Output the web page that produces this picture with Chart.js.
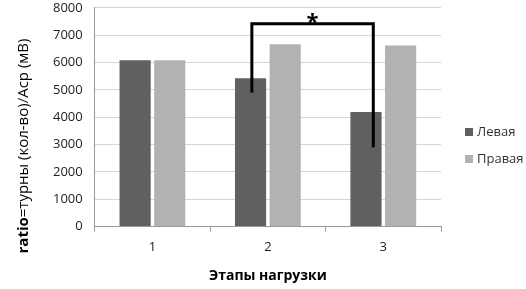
<!DOCTYPE html>
<html>
<head>
<meta charset="utf-8">
<script src="https://cdn.jsdelivr.net/npm/chart.js@4"></script>
<style>
  html, body { margin: 0; padding: 0; background: #fff; overflow: hidden; }
  #wrap { width: 526px; height: 289px; }
</style>
</head>
<body>
<div id="wrap"><canvas id="barchart"></canvas></div>
<script>
const stages = ['1', '2', '3'];
const leftValues = [6080, 5420, 4190];
const rightValues = [6080, 6670, 6620];
const yTicks = [0, 1000, 2000, 3000, 4000, 5000, 6000, 7000, 8000];
// significance bracket between stage 2 and stage 3 (left side)
const bracketTop = 7420;
const bracketEnds = [4900, 2900];

const FONT = '"Open Sans", sans-serif';

const yTitle = {
    id: 'yTitle',
    afterDraw(chart) {
        const c = chart.ctx;
        c.save();
        c.translate(24, 146);
        c.rotate(-Math.PI / 2);
        c.textBaseline = 'middle';
        const bold = 'bold 15px ' + FONT;
        const norm = '15px ' + FONT;
        c.font = bold;
        const w1 = c.measureText('ratio').width;
        c.font = norm;
        const rest = '=турны (кол-во)/Аср (мВ)';
        const w2 = c.measureText(rest).width;
        let x = -(w1 + w2) / 2;
        c.fillStyle = '#000';
        c.font = bold;
        c.fillText('ratio', x, 0);
        c.font = norm;
        c.fillText(rest, x + w1, 0);
        c.restore();
    }
};

const sideLegend = {
    id: 'sideLegend',
    afterDraw(chart) {
        const c = chart.ctx;
        const x = chart.chartArea.right + 24;
        c.save();
        c.font = '13px ' + FONT;
        c.textBaseline = 'middle';
        chart.data.datasets.forEach((ds, i) => {
            const y = 132 + i * 27;
            c.fillStyle = ds.backgroundColor;
            c.fillRect(x, y - 4, 8, 8);
            c.fillStyle = '#333';
            c.fillText(ds.label, x + 12, y);
        });
        c.restore();
    }
};

const bracket = {
    id: 'bracket',
    afterDatasetsDraw(chart) {
        const c = chart.ctx;
        const xs = chart.scales.x, ys = chart.scales.y;
        const x1 = xs.getPixelForValue(1) - 16;
        const x2 = xs.getPixelForValue(2) - 10;
        const yt = ys.getPixelForValue(bracketTop);
        c.save();
        c.strokeStyle = '#000';
        c.lineWidth = 3;
        c.beginPath();
        c.moveTo(x1, ys.getPixelForValue(bracketEnds[0]));
        c.lineTo(x1, yt);
        c.lineTo(x2, yt);
        c.lineTo(x2, ys.getPixelForValue(bracketEnds[1]));
        c.stroke();
        c.fillStyle = '#000';
        c.font = 'bold 22px ' + FONT;
        c.textAlign = 'center';
        c.textBaseline = 'middle';
        c.fillText('*', (x1 + x2) / 2, yt - 1);
        c.restore();
    }
};

new Chart(document.getElementById('barchart'), {
    type: 'bar',
    data: {
        labels: stages,
        datasets: [
            {
                label: 'Левая',
                backgroundColor: '#606060',
                data: leftValues,
                categoryPercentage: 0.6,
                barPercentage: 0.9
            },
            {
                label: 'Правая',
                backgroundColor: '#b2b2b2',
                data: rightValues,
                categoryPercentage: 0.6,
                barPercentage: 0.9
            }
        ]
    },
    options: {
        responsive: true,
        maintainAspectRatio: false,
        animation: false,
        layout: { padding: { left: 53, top: 0, right: 85, bottom: 5 } },
        plugins: {
            tooltip: { enabled: false },
            legend: { display: false }
        },
        scales: {
            x: {
                grid: {
                    offset: true,
                    drawOnChartArea: false,
                    drawTicks: true,
                    tickLength: 5,
                    color: '#999'
                },
                border: { color: '#999' },
                ticks: { color: '#222', padding: 8, font: { family: FONT, size: 13 } },
                title: {
                    display: true,
                    text: 'Этапы нагрузки',
                    color: '#000',
                    padding: { top: 4, bottom: 0 },
                    font: { family: FONT, size: 14, weight: 'bold' }
                }
            },
            y: {
                min: 0,
                max: 8000,
                afterBuildTicks(axis) {
                    axis.ticks = yTicks.map(v => ({ value: v }));
                },
                grid: {
                    color: '#d6d6d6',
                    drawTicks: true,
                    tickLength: 12,
                    tickColor: 'rgba(0,0,0,0)'
                },
                border: { color: '#999' },
                ticks: {
                    color: '#222',
                    padding: 0,
                    font: { family: FONT, size: 13 },
                    callback: v => String(v)
                }
            }
        }
    },
    plugins: [yTitle, sideLegend, bracket]
});
</script>
</body>
</html>
